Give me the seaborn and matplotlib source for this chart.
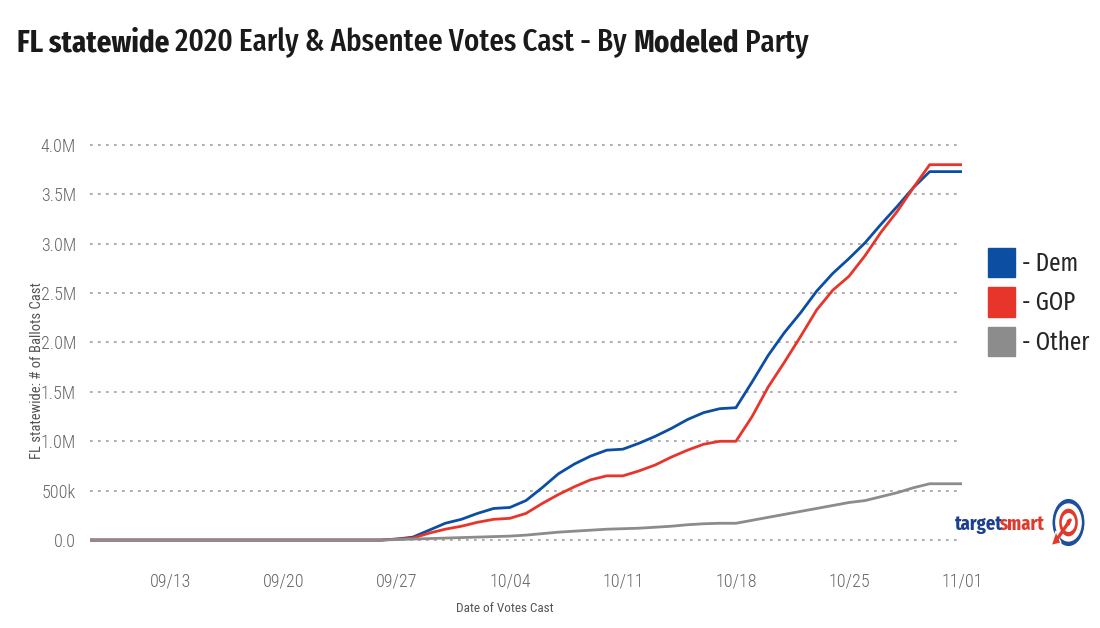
import pandas as pd
import numpy as np
import matplotlib
matplotlib.use('Agg')
import matplotlib.pyplot as plt
import seaborn as sns
from matplotlib import font_manager as fm
from matplotlib.patches import Patch, Circle, Polygon
import matplotlib.dates as mdates

# 数据 (单位: 百万张选票)
dates = pd.date_range('2020-09-08', '2020-11-01', freq='D')

dem_m = [0.00, 0.00, 0.00, 0.00, 0.00, 0.00, 0.00, 0.00, 0.00, 0.00,   # 09/08-09/17
         0.00, 0.00, 0.00, 0.00, 0.00, 0.00, 0.00, 0.00, 0.00, 0.01,   # 09/18-09/27
         0.03, 0.10, 0.17,                                             # 09/28-09/30
         0.21, 0.27, 0.32, 0.33, 0.40, 0.53, 0.67, 0.77, 0.85, 0.91,   # 10/01-10/10
         0.92, 0.98, 1.05, 1.13, 1.22, 1.29, 1.33, 1.34, 1.60, 1.87,   # 10/11-10/20
         2.10, 2.30, 2.52, 2.70, 2.85, 3.01, 3.20, 3.38, 3.57, 3.73,   # 10/21-10/30
         3.73, 3.73]                                                   # 10/31-11/01

gop_m = [0.00, 0.00, 0.00, 0.00, 0.00, 0.00, 0.00, 0.00, 0.00, 0.00,
         0.00, 0.00, 0.00, 0.00, 0.00, 0.00, 0.00, 0.00, 0.00, 0.01,
         0.02, 0.07, 0.11,
         0.14, 0.18, 0.21, 0.22, 0.27, 0.37, 0.46, 0.54, 0.61, 0.65,
         0.65, 0.70, 0.76, 0.84, 0.91, 0.97, 1.00, 1.00, 1.25, 1.55,
         1.80, 2.06, 2.33, 2.53, 2.67, 2.88, 3.12, 3.33, 3.57, 3.80,
         3.80, 3.80]

other_m = [0.00, 0.00, 0.00, 0.00, 0.00, 0.00, 0.00, 0.00, 0.00, 0.00,
           0.00, 0.00, 0.00, 0.00, 0.00, 0.00, 0.00, 0.00, 0.00, 0.005,
           0.01, 0.015, 0.02,
           0.025, 0.03, 0.035, 0.04, 0.05, 0.065, 0.08, 0.09, 0.10, 0.11,
           0.115, 0.12, 0.13, 0.14, 0.155, 0.165, 0.17, 0.17, 0.20, 0.23,
           0.26, 0.29, 0.32, 0.35, 0.38, 0.40, 0.44, 0.48, 0.53, 0.57,
           0.57, 0.57]

parties = ['Dem', 'GOP', 'Other']
party_colors = ['#0b4ea2', '#e8352b', '#8c8c8c']

y_ticks = [0.0, 0.5, 1.0, 1.5, 2.0, 2.5, 3.0, 3.5, 4.0]
y_tick_labels = ['0.0', '500k', '1.0M', '1.5M', '2.0M', '2.5M', '3.0M', '3.5M', '4.0M']
x_ticks = ['2020-09-13', '2020-09-20', '2020-09-27', '2020-10-04',
           '2020-10-11', '2020-10-18', '2020-10-25', '2020-11-01']

# 标题分段: (文字, 字重)
title_parts = [('FL statewide', 'bold'),
               (' 2020 Early & Absentee Votes Cast - By ', 'medium'),
               ('Modeled', 'bold'),
               (' Party', 'medium')]

df = pd.DataFrame({
    'date': np.tile(dates, 3),
    'votes': dem_m + gop_m + other_m,
    'party': np.repeat(parties, len(dates)),
})

# 选择窄体字体 (找不到时退回 DejaVu Sans)
installed = {f.name for f in fm.fontManager.ttflist}
def pick(cands):
    for c in cands:
        if c in installed:
            return c
    return 'DejaVu Sans'

title_font = pick(['Fira Sans Extra Condensed', 'Fira Sans Condensed', 'Roboto Condensed', 'Roboto'])
tick_font = pick(['Roboto Condensed', 'Open Sans Condensed', 'Fira Sans Condensed', 'Roboto'])
title_fam = [title_font, 'DejaVu Sans']
tick_fam = [tick_font, 'DejaVu Sans']

sns.set_style('white')
plt.rcParams['font.family'] = tick_fam

W, H = 1100, 628
fig = plt.figure(figsize=(11, 6.28), dpi=100)
ax = fig.add_axes([90 / W, 1 - 545 / H, 872 / W, 405 / H])

sns.lineplot(data=df, x='date', y='votes', hue='party', hue_order=parties,
             palette=party_colors, linewidth=2.0, ax=ax, legend=False)

ax.set_xlim(dates[0], dates[-1])
ax.set_ylim(-0.05, 4.05)

# 虚线网格
for yv in y_ticks:
    ax.axhline(yv, color='#a0a0a0', linestyle=(0, (1.6, 3.2)), linewidth=1.2,
               zorder=0, clip_on=False)

ax.set_yticks(y_ticks)
ax.set_yticklabels(y_tick_labels)
ax.set_xticks(pd.to_datetime(x_ticks))
ax.xaxis.set_major_formatter(mdates.DateFormatter('%m/%d'))
ax.tick_params(axis='y', length=0, pad=10, labelsize=13, labelcolor='#666666')
ax.tick_params(axis='x', length=12, width=0.8, color='#c4c4c4', pad=8,
               labelsize=13, labelcolor='#666666', direction='out')
for lab in ax.get_xticklabels() + ax.get_yticklabels():
    lab.set_fontweight('light')
for s in ax.spines.values():
    s.set_visible(False)

ax.set_xlabel('Date of Votes Cast', fontsize=9.5, color='#555555')
ax.xaxis.set_label_coords(0.476, -0.14)
ax.set_ylabel('FL statewide: # of Ballots Cast', fontsize=10.5, color='#555555')
ax.yaxis.set_label_coords(-0.053, 0.43)

renderer = fig.canvas.get_renderer()

def run_text(x_px, y_px, parts, size, colors, ha_right=False, kern=0):
    """按基线依次排列不同字重/颜色的文字片段"""
    x = x_px
    seq = list(zip(parts, colors))
    if ha_right:
        seq = seq[::-1]
    for (txt, wt), col in seq:
        t = fig.text(x / W, 1 - y_px / H, txt, fontsize=size, fontweight=wt,
                     color=col, va='baseline', ha='right' if ha_right else 'left',
                     family=title_fam)
        bb = t.get_window_extent(renderer)
        x = bb.x0 + kern if ha_right else bb.x1 - kern

# 标题 (部分加粗)
run_text(17, 51, title_parts, 22.6, ['#1a1a1a'] * len(title_parts))

# 图例
handles = [Patch(facecolor=c, edgecolor=c) for c in party_colors]
fig.legend(handles, ['- ' + p for p in parties], loc='center left',
           bbox_to_anchor=(988 / W, 1 - 302 / H), frameon=False,
           prop={'family': title_fam, 'size': 18},
           handlelength=1.07, handleheight=1.42, handletextpad=0.3,
           labelspacing=0.4, borderpad=0, borderaxespad=0)

# targetsmart 标志
run_text(1044, 530, [('target', 'bold'), ('smart', 'bold')], 14.5,
         ['#1d3f8f', '#e03a2c'], ha_right=True, kern=4)
lax = fig.add_axes([1051 / W, 1 - 548 / H, 35 / W, 51 / H])
lax.set_xlim(-1.05, 1.05)
lax.set_ylim(-1.05, 1.05)
lax.axis('off')
lax.add_patch(Circle((0, 0), 1.0, facecolor='#1d4f9c'))
lax.add_patch(Circle((0, 0), 0.76, facecolor='white'))
lax.add_patch(Circle((0, 0), 0.60, facecolor='#e03a2c'))
lax.add_patch(Circle((0, 0), 0.36, facecolor='white'))
lax.add_patch(Circle((0, 0), 0.16, facecolor='#e03a2c'))
lax.plot([0.1, -0.7], [0.1, -0.7], color='#e03a2c', linewidth=2.4)
lax.add_patch(Polygon([[-1.05, -0.95], [-0.45, -0.85], [-0.75, -0.35]],
                      facecolor='#e03a2c', clip_on=False))

fig.savefig('out.png', dpi=100)
